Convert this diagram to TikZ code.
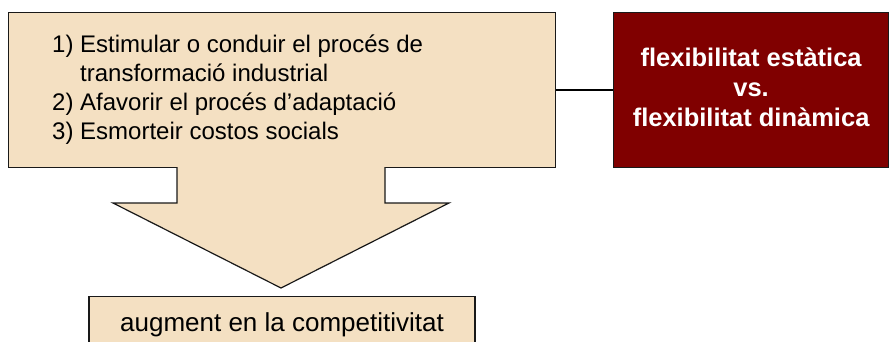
\documentclass[tikz,border=0pt]{standalone}
\usepackage{fontspec}
\setmainfont{Liberation Sans}
\usetikzlibrary{positioning}
\definecolor{beige}{HTML}{F4E0C2}
\definecolor{maroon}{HTML}{800000}

\begin{document}
\begin{tikzpicture}[x=1pt, y=-1pt,
    nodes = {font=\fontsize{24}{29}\selectfont},
    box/.style = {draw=black!90, line width=1.2pt, inner sep=0pt},
    arrowline/.style = {draw=black!90, line width=1.2pt, line join=miter}]
\useasboundingbox (0,0) rectangle (890,342);
\clip (0,0) rectangle (890,342);
% boxes
\node[box, fill=beige, minimum width=547pt, minimum height=155pt,
  anchor=north west] (measures) at (8,12) {};
\node[box, fill=maroon, minimum width=275pt, minimum height=155pt,
  anchor=north west] (flex) at (613,12) {};
\node[box, fill=beige, minimum width=386pt, minimum height=56pt,
  anchor=north, font=\fontsize{26}{30}\selectfont] (result) at (282,296)
  {augment en la competitivitat};
% texts
\node[anchor=north west, align=left, inner sep=0pt] (aims) at (52,35)
  {1) Estimular o conduir el procés de\\
   \hphantom{1)}\ transformació industrial\\
   2) Afavorir el procés d’adaptació\\
   3) Esmorteir costos socials};
\node[text=white, font=\bfseries\fontsize{25.5}{30}\selectfont, align=center]
  (flextext) at ([yshift=3pt]flex.center)
  {flexibilitat estàtica\\vs.\\flexibilitat dinàmica};
% block arrow
\coordinate (tip) at (281,288);
\fill[beige] (177,166) -- (177,203) -- (113,203) -- (tip) -- (449,203)
  -- (385,203) -- (385,166) -- cycle;
\draw[arrowline] (177,167) -- (177,203) -- (113,203) -- (tip) -- (449,203)
  -- (385,203) -- (385,167);
% connector
\draw[line width=1.2pt] (measures.east) -- (flex.west);
\end{tikzpicture}
\end{document}
